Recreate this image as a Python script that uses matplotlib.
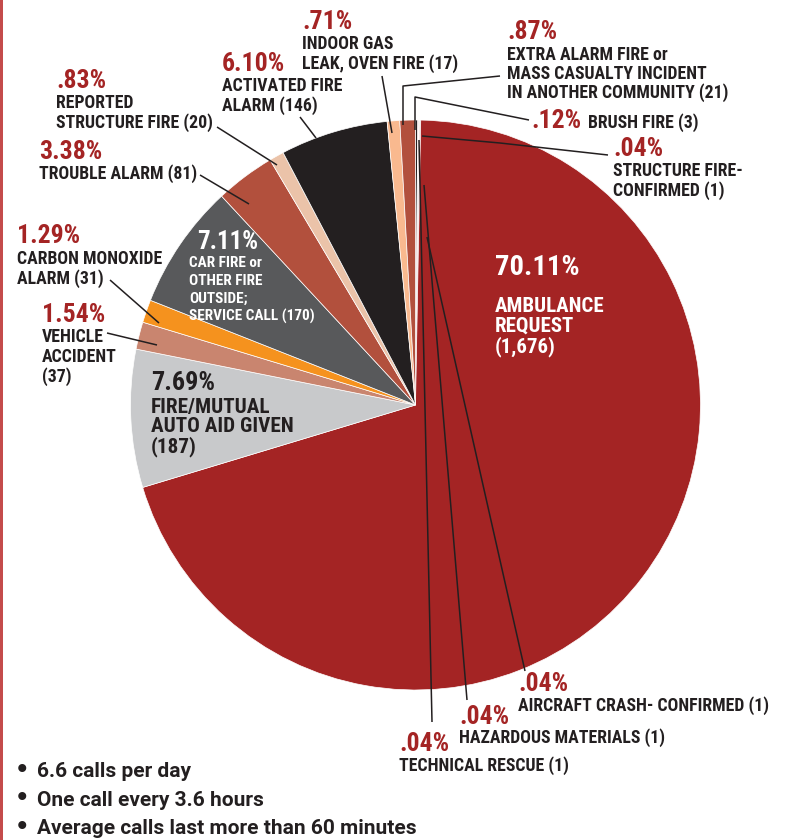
import matplotlib
matplotlib.use("Agg")
import matplotlib.pyplot as plt
from matplotlib.lines import Line2D
from matplotlib.patches import Rectangle

# ---------------- data (clockwise from 12 o'clock) ----------------
categories = ["BRUSH FIRE", "STRUCTURE FIRE- CONFIRMED", "TECHNICAL RESCUE",
              "HAZARDOUS MATERIALS", "AIRCRAFT CRASH- CONFIRMED", "AMBULANCE REQUEST",
              "FIRE/MUTUAL AUTO AID GIVEN", "VEHICLE ACCIDENT", "CARBON MONOXIDE ALARM",
              "CAR FIRE or OTHER FIRE OUTSIDE; SERVICE CALL", "TROUBLE ALARM",
              "REPORTED STRUCTURE FIRE", "ACTIVATED FIRE ALARM",
              "INDOOR GAS LEAK, OVEN FIRE",
              "EXTRA ALARM FIRE or MASS CASUALTY INCIDENT IN ANOTHER COMMUNITY"]
counts = [3, 1, 1, 1, 1, 1676, 187, 37, 31, 170, 81, 20, 146, 17, 21]
pct_labels = [".12%", ".04%", ".04%", ".04%", ".04%", "70.11%", "7.69%", "1.54%",
              "1.29%", "7.11%", "3.38%", ".83%", "6.10%", ".71%", ".87%"]
colors = ["#231F20", "#A42424", "#58595B", "#C6401F", "#A42424", "#A42424",
          "#C8C9CB", "#C9856F", "#F5921E", "#58595B", "#B2503D", "#EBC3A9",
          "#231F20", "#F9B98F", "#B2503D"]
bullets = ["6.6 calls per day", "One call every 3.6 hours",
           "Average calls last more than 60 minutes"]

RED = "#A42424"
DARK = "#231F20"
FONT = ["Roboto Condensed", "Barlow Semi Condensed", "DejaVu Sans"]
BFONT = ["Roboto", "DejaVu Sans"]

W, H = 790, 840
fig = plt.figure(figsize=(W / 100, H / 100), dpi=100)
ax = fig.add_axes([0, 0, 1, 1])


def Y(y):
    return H - y


# pie
cx, cy, R = 415.5, 405, 285
ax.pie(counts, colors=colors, startangle=90, counterclock=False,
       center=(cx, Y(cy)), radius=R, frame=True,
       wedgeprops=dict(edgecolor="white", linewidth=0.5))
ax.set_xlim(0, W)
ax.set_ylim(0, H)
ax.set_aspect("equal")
ax.axis("off")

# left border
ax.add_patch(Rectangle((0, 0), 2.5, H, color="#C44B4B", lw=0, clip_on=False))


def txt(x, y, s, size, color=DARK, family=FONT, stretch="condensed", weight="bold"):
    ax.text(x, Y(y), s, fontsize=size, color=color, family=family,
            fontstretch=stretch, fontweight=weight,
            ha="left", va="baseline")


def block(x, pb, pct, lines, lb, step=19.5, psize=18.5, lsize=12.8,
          pcolor=RED, lcolor=DARK, lx=None):
    txt(x, pb, pct, psize, pcolor)
    lx = x if lx is None else lx
    for i, line in enumerate(lines):
        txt(lx, lb + i * step, line, lsize, lcolor)


def leader(pts):
    xs = [p[0] for p in pts]
    ys = [Y(p[1]) for p in pts]
    ax.add_line(Line2D(xs, ys, color=DARK, lw=1.1, solid_capstyle="butt"))


# labels
block(302, 29, pct_labels[13], ["INDOOR GAS", "LEAK, OVEN FIRE (17)"], 49, step=20)
block(507, 39, pct_labels[14], ["EXTRA ALARM FIRE or", "MASS CASUALTY INCIDENT",
                                "IN ANOTHER COMMUNITY (21)"], 60, step=18.7)
txt(531, 128, pct_labels[0], 18.5, RED)
txt(588, 128, "BRUSH FIRE (3)", 12.8)
block(613, 156, pct_labels[1], ["STRUCTURE FIRE-", "CONFIRMED (1)"], 176)
block(222, 71, pct_labels[12], ["ACTIVATED FIRE", "ALARM (146)"], 91)
block(56, 88, pct_labels[11], ["REPORTED", "STRUCTURE FIRE (20)"], 108, step=20)
block(39, 159, pct_labels[10], ["TROUBLE ALARM (81)"], 179)
block(17, 243, pct_labels[8], ["CARBON MONOXIDE", "ALARM (31)"], 264, step=20)
block(42, 322, pct_labels[7], ["VEHICLE", "ACCIDENT", "(37)"], 342, step=20)
block(151, 390, pct_labels[6], ["FIRE/MUTUAL", "AUTO AID GIVEN", "(187)"], 413,
      step=19.5, psize=18.8, lsize=15.2, pcolor=DARK)
block(197, 249, pct_labels[9], ["CAR FIRE or", "OTHER FIRE", "OUTSIDE;",
                                "SERVICE CALL (170)"], 267, step=18,
      psize=18, lsize=11, pcolor="white", lcolor="white", lx=189)
block(495, 275, pct_labels[5], ["AMBULANCE", "REQUEST", "(1,676)"], 312,
      step=20, psize=20.5, lsize=15, pcolor="white", lcolor="white")
block(518, 691, pct_labels[4], ["AIRCRAFT CRASH- CONFIRMED (1)"], 711)
block(459, 724, pct_labels[3], ["HAZARDOUS MATERIALS (1)"], 743)
block(399, 751, pct_labels[2], ["TECHNICAL RESCUE (1)"], 771)

# leader lines
leader([(382, 76), (392, 133)])
leader([(500, 76), (403, 86), (403, 125)])
leader([(529, 120), (415, 97), (415, 130)])
leader([(608, 155), (500, 143), (422, 136)])
leader([(300, 117), (316, 138)])
leader([(217, 127), (277, 165)])
leader([(200, 175), (249, 204)])
leader([(110, 280), (159, 323)])
leader([(107, 333), (157, 345)])
leader([(525, 671), (427, 237)])
leader([(467, 700), (424, 185)])
leader([(432, 722), (419, 140)])

# bullets
for i, b in enumerate(bullets):
    base = 777 + i * 28.5
    txt(15, base, "\u2022", 16.5, family=["DejaVu Sans"], stretch="normal")
    txt(37, base, b, 15, family=BFONT, stretch="normal")

fig.savefig("out.png", dpi=100)
